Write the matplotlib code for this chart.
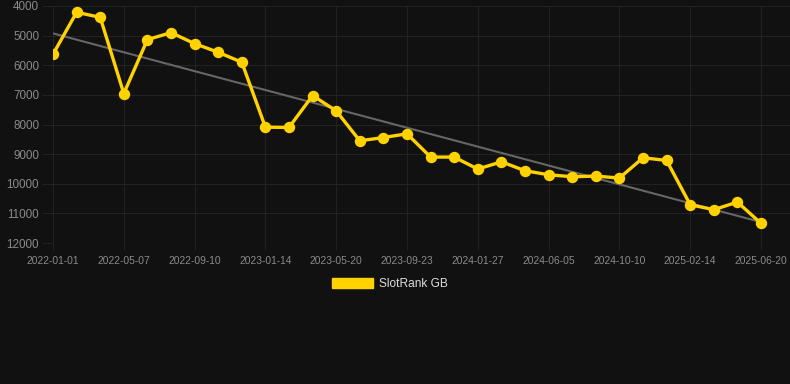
import matplotlib
matplotlib.use("Agg")
import matplotlib.pyplot as plt
from matplotlib.patches import Patch
import numpy as np

plt.rcParams["font.family"] = ["Liberation Sans", "DejaVu Sans"]

# Data
tick_labels = ["2022-01-01", "2022-05-07", "2022-09-10", "2023-01-14", "2023-05-20",
               "2023-09-23", "2024-01-27", "2024-06-05", "2024-10-10", "2025-02-14",
               "2025-06-20"]
rank_values = [5630, 4213, 4382, 6955, 5135, 4899, 5270, 5562, 5899, 8090,
               8100, 7023, 7539, 8550, 8440, 8314, 9100, 9100, 9505, 9258,
               9561, 9696, 9764, 9740, 9808, 9123, 9213, 10707, 10876, 10618,
               11337]
series_name = "SlotRank GB"
y_ticks = [4000, 5000, 6000, 7000, 8000, 9000, 10000, 11000, 12000]

bg = "#111111"
grid_c = "#222222"
gold = "#FFD200"

fig = plt.figure(figsize=(7.9, 3.84), dpi=100, facecolor=bg)
ax = fig.add_axes([53/790, 1-243/384, 1-53/790, (243-6)/384])
ax.set_facecolor(bg)

x = np.arange(len(rank_values))
slope, intercept = np.polyfit(x, rank_values, 1)
ax.plot(x, slope*x + intercept, color="#666666", lw=1.5, zorder=2)
ax.plot(x, rank_values, color=gold, lw=2.4, marker="o", markersize=7.2,
        markerfacecolor=gold, markeredgecolor=gold, zorder=3)

ax.set_ylim(12000, 4000)
ax.set_yticks(y_ticks)
ax.set_yticklabels([str(v) for v in y_ticks])
step = 3
ax.set_xticks(x[::step])
ax.set_xticklabels(tick_labels)
ax.set_xlim(0, 30 + 29/23.6)

ax.grid(True, color=grid_c, lw=0.8)
for s in ax.spines.values():
    s.set_visible(False)
ax.tick_params(axis="y", colors=grid_c, labelcolor="#8a8a8a", labelsize=8.4, length=8, width=0.8, pad=2)
ax.tick_params(axis="x", colors=grid_c, labelcolor="#8a8a8a", labelsize=7.4, length=5, width=0.8, pad=4)

handle = Patch(facecolor=gold, edgecolor=gold, label=series_name)
leg = fig.legend(handles=[handle], loc="center", bbox_to_anchor=(390/790, 1-284/384),
                 frameon=False, fontsize=8.6, handlelength=3.4, handleheight=1.0,
                 handletextpad=0.5, labelcolor="#dddddd")

fig.savefig("out.png", dpi=100, facecolor=bg)
